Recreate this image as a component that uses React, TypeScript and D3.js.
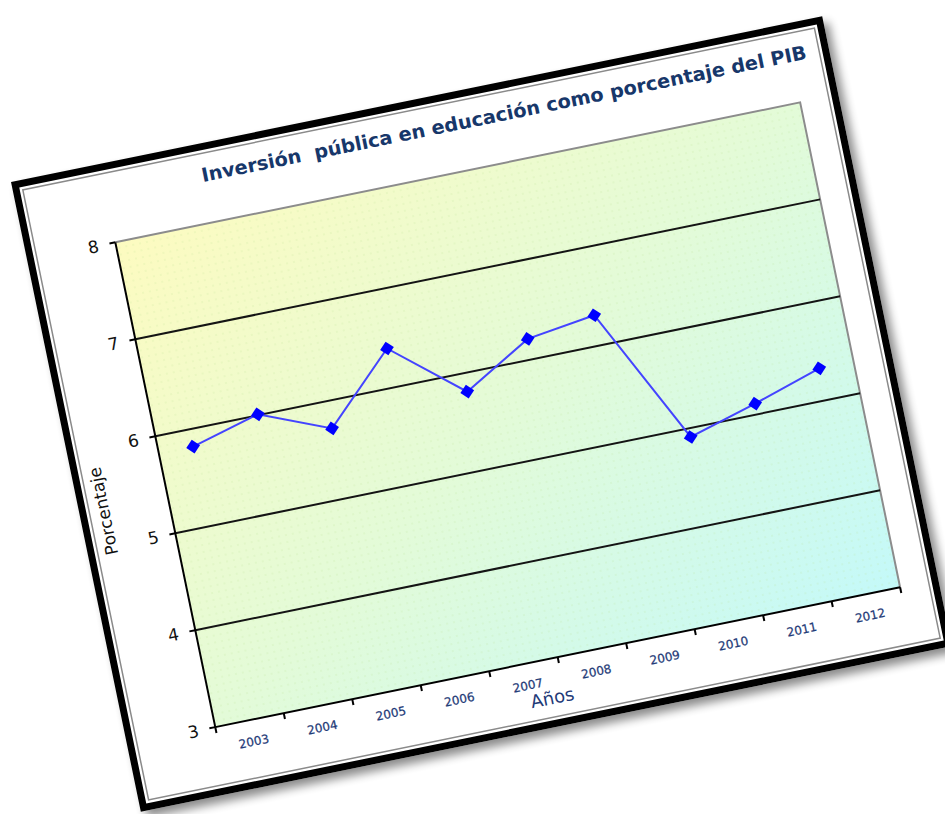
import React from "react";
import * as d3 from "d3";

// data
const years = ["2003", "2004", "2005", "2006", "2007", "2008", "2009", "2010", "2011", "2012"];
const inversion = [5.82, 6.01, 5.72, 6.4, 5.81, 6.21, 6.31, 4.91, 5.11, 5.33];
const yTicks = [3, 4, 5, 6, 7, 8];
const gridValues = [4, 5, 6, 7];
const chartTitle = "Inversión  pública en educación como porcentaje del PIB";
const xTitle = "Años";
const yTitle = "Porcentaje";

const W = 945;
const H = 814;
// the whole card is tilted, like a photo lying on the page
const tilt = "matrix(0.9797,-0.2002,0.2019,0.9794,11,182)";
const frameW = 828;
const frameH = 643;
const plot = { left: 90, top: 80, right: 789, bottom: 575 };

const navy = "#1f3b78";

const App: React.FC = () => {
  const x = d3.scaleBand<string>().domain(years).range([plot.left, plot.right]);
  const y = d3.scaleLinear().domain([3, 8]).range([plot.bottom, plot.top]);

  const pts = years.map((yr, i) => ({ yr, v: inversion[i] }));
  const line = d3
    .line<{ yr: string; v: number }>()
    .x((d) => (x(d.yr) ?? 0) + x.bandwidth() / 2)
    .y((d) => y(d.v));
  const diamond = d3.symbol().type(d3.symbolSquare).size(98)() ?? "";

  const bounds = years.map((yr) => x(yr) ?? 0).concat([plot.right]);

  return (
    <svg width={W} height={H} style={{ position: "absolute", left: 0, top: 0 }}>
      <defs>
        <linearGradient id="bg" x1="0" y1="0" x2="1" y2="1">
          <stop offset="0" stopColor="#fdfbc0" />
          <stop offset="0.5" stopColor="#e3fbd8" />
          <stop offset="1" stopColor="#c4f9f9" />
        </linearGradient>
        <pattern id="dots" width="7" height="7" patternUnits="userSpaceOnUse">
          <circle cx="2" cy="2" r="0.8" fill="#b8d890" opacity="0.35" />
        </pattern>
        <filter id="shadow" x="-5%" y="-5%" width="115%" height="115%">
          <feGaussianBlur stdDeviation="5" />
        </filter>
      </defs>

      <g transform={tilt}>
        {/* card with shadow and frame */}
        <rect x={5} y={7} width={frameW} height={frameH} fill="#000" opacity={0.45} filter="url(#shadow)" />
        <rect x={0} y={0} width={frameW} height={frameH} fill="#fff" />
        <rect x={3.5} y={3.5} width={frameW - 7} height={frameH - 7} fill="none" stroke="#000" strokeWidth={7} />
        <rect x={10} y={10} width={frameW - 20} height={frameH - 20} fill="none" stroke="#8a8a8a" strokeWidth={1.5} />

        {/* plot area */}
        <rect
          x={plot.left}
          y={plot.top}
          width={plot.right - plot.left}
          height={plot.bottom - plot.top}
          fill="url(#bg)"
        />
        <rect
          x={plot.left}
          y={plot.top}
          width={plot.right - plot.left}
          height={plot.bottom - plot.top}
          fill="url(#dots)"
        />
        <path
          d={`M${plot.left},${plot.top}H${plot.right}V${plot.bottom}`}
          fill="none"
          stroke="#8c8c8c"
          strokeWidth={2}
        />

        {gridValues.map((v) => (
          <line key={v} x1={plot.left} x2={plot.right} y1={y(v)} y2={y(v)} stroke="#141414" strokeWidth={2} />
        ))}

        {/* y axis */}
        <line x1={plot.left} x2={plot.left} y1={plot.top} y2={plot.bottom} stroke="#000" strokeWidth={2} />
        {yTicks.map((t) => (
          <g key={t}>
            <line x1={plot.left - 6} x2={plot.left} y1={y(t)} y2={y(t)} stroke="#000" strokeWidth={2} />
            <text
              x={plot.left - 17}
              y={y(t)}
              dy="0.36em"
              textAnchor="end"
              fontFamily="'DejaVu Sans', sans-serif"
              fontSize={17}
              fill="#111"
            >
              {t}
            </text>
          </g>
        ))}

        {/* x axis */}
        <line x1={plot.left} x2={plot.right} y1={plot.bottom} y2={plot.bottom} stroke="#000" strokeWidth={2} />
        {bounds.map((b, i) => (
          <line key={i} x1={b} x2={b} y1={plot.bottom} y2={plot.bottom + 6} stroke="#000" strokeWidth={2} />
        ))}
        {years.map((yr) => (
          <text
            key={yr}
            x={(x(yr) ?? 0) + x.bandwidth() / 2}
            y={plot.bottom + 26}
            textAnchor="middle"
            fontFamily="'DejaVu Sans', sans-serif"
            fontSize={12}
            fill={navy}
            stroke={navy}
            strokeWidth={0.25}
          >
            {yr}
          </text>
        ))}

        <text
          x={426}
          y={620}
          textAnchor="middle"
          fontFamily="'DejaVu Sans', sans-serif"
          fontSize={18}
          fill={navy}
        >
          {xTitle}
        </text>
        <text
          transform="translate(24,341) rotate(-90)"
          dy="0.35em"
          textAnchor="middle"
          fontFamily="'DejaVu Sans', sans-serif"
          fontSize={17}
          fill="#111"
        >
          {yTitle}
        </text>

        {/* series */}
        <path d={line(pts) ?? ""} fill="none" stroke="#4444ff" strokeWidth={2} />
        {pts.map((d) => (
          <path
            key={d.yr}
            d={diamond}
            transform={`translate(${(x(d.yr) ?? 0) + x.bandwidth() / 2},${y(d.v)}) rotate(45)`}
            fill="#0000ff"
          />
        ))}

        <text
          x={188}
          y={38.5}
          textLength={617}
          lengthAdjust="spacingAndGlyphs"
          fontFamily="'DejaVu Sans', Verdana, sans-serif"
          fontWeight="bold"
          fontSize={19}
          fill="#17376a"
          style={{ whiteSpace: "pre" }}
        >
          {chartTitle}
        </text>
      </g>
    </svg>
  );
};

export default App;
